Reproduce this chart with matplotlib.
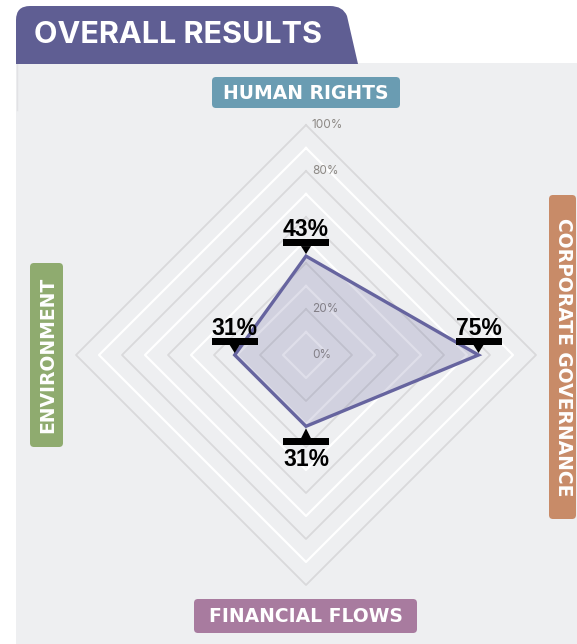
import matplotlib
matplotlib.use("Agg")
import matplotlib.pyplot as plt
from matplotlib.patches import FancyBboxPatch, Polygon, Rectangle, PathPatch
from matplotlib.path import Path

# ---------------- data ----------------
title = "OVERALL RESULTS"
categories = ["HUMAN RIGHTS", "CORPORATE GOVERNANCE", "FINANCIAL FLOWS", "ENVIRONMENT"]
values = [43, 75, 31, 31]          # top, right, bottom, left
value_labels = ["43%", "75%", "31%", "31%"]
tick_values = [0, 20, 80, 100]
tick_labels = ["0%", "20%", "80%", "100%"]
ring_values = [10, 20, 30, 40, 50, 60, 70, 80, 90, 100]
cat_colors = ["#6a9cb2", "#c88b68", "#a87b9f", "#8fab6f"]

W, H = 577, 644
fig = plt.figure(figsize=(W / 100, H / 100), dpi=100)
fig.patch.set_facecolor("white")

# decoration axes in pixel coordinates
deco = fig.add_axes([0, 0, 1, 1])
deco.set_xlim(0, W)
deco.set_ylim(H, 0)
deco.axis("off")

PANEL = "#eeeff1"
deco.add_patch(Rectangle((16, 63), W - 16, H - 63, facecolor=PANEL, edgecolor="none", zorder=0))
deco.plot([16.5, 16.5], [63, 110], color="#e2e2e5", lw=1.0, zorder=1)

# title tab
verts = [(16, 64), (16, 20), (16, 6), (30, 6), (330, 6), (343, 6), (347, 16), (358, 64), (16, 64)]
codes = [Path.MOVETO, Path.LINETO, Path.CURVE3, Path.CURVE3, Path.LINETO, Path.CURVE3, Path.CURVE3,
         Path.LINETO, Path.CLOSEPOLY]
deco.add_patch(PathPatch(Path(verts, codes), facecolor="#5f5e93", edgecolor="none", zorder=2))
deco.text(34, 35, title, color="white", fontsize=22, fontweight="bold", family="Inter",
          ha="left", va="center", zorder=3)

# category label boxes (pixel boxes: x0, y0, x1, y1)
boxes = [(212, 77, 400, 108), (549, 195, 576, 519), (194, 599, 417, 633), (30, 263, 63, 447)]
rots = [0, -90, 0, 90]
for (x0, y0, x1, y1), name, col, rot in zip(boxes, categories, cat_colors, rots):
    deco.add_patch(FancyBboxPatch((x0 + 4, y0 + 4), x1 - x0 - 8, y1 - y0 - 8,
                                  boxstyle="round,pad=4", facecolor=col, edgecolor="none", zorder=2))
    deco.text((x0 + x1) / 2 + (1 if rot != 0 else 0), (y0 + y1) / 2 + (1 if rot == 0 else 0), name,
              color="white", fontsize=13.5, fontweight="bold", family="DejaVu Sans", rotation=rot,
              ha="center", va="center", rotation_mode="anchor", zorder=3)

# ---------------- radar axes ----------------
CX, CY, S = 306, 355, 2.3   # centre pixel, pixels per percent
ax = fig.add_axes([0, 0, 1, 1])
ax.set_xlim(-CX / S, (W - CX) / S)
ax.set_ylim((CY - H) / S, CY / S)
ax.axis("off")
ax.patch.set_alpha(0)

for r in ring_values:
    even = (r // 10) % 2 == 0
    col = "#d9d9db" if even else "#ffffff"
    lw = 1.3 if even else 1.6
    ax.plot([0, r, 0, -r, 0], [r, 0, -r, 0, r], color=col, lw=lw, zorder=1)

for tv, tl in zip(tick_values, tick_labels):
    ax.text(6 / S, tv, tl, color="#8c8884", fontsize=8.5, family="Inter", ha="left", va="center", zorder=2)

top, right, bottom, left = values
px = [0, right, 0, -left]
py = [top, 0, -bottom, 0]
ax.add_patch(Polygon(list(zip(px, py)), closed=True, facecolor="#5f5d97", alpha=0.2,
                     edgecolor="none", zorder=3))
ax.add_patch(Polygon(list(zip(px, py)), closed=True, facecolor="none", edgecolor="#66649f",
                     lw=2.4, joinstyle="miter", zorder=4))

u = 1 / S  # one pixel in data units
for i, (x, y, lab) in enumerate(zip(px, py, value_labels)):
    if i == 2:
        tip = y - 2 * u
        ax.add_patch(Polygon([(x - 5 * u, tip - 10 * u), (x + 5 * u, tip - 10 * u), (x, tip)],
                             facecolor="black", edgecolor="none", zorder=5))
        ax.add_patch(Rectangle((x - 23 * u, tip - 17 * u), 46 * u, 7 * u, facecolor="black",
                               edgecolor="none", zorder=5))
        ax.text(x, tip - 20 * u, lab, fontsize=16.5, fontweight="bold", family="Liberation Sans",
                color="black", ha="center", va="top", zorder=6)
    else:
        tip = y + 2 * u
        ax.add_patch(Polygon([(x - 5 * u, tip + 8 * u), (x + 5 * u, tip + 8 * u), (x, tip)],
                             facecolor="black", edgecolor="none", zorder=5))
        ax.add_patch(Rectangle((x - 23 * u, tip + 8 * u), 46 * u, 7 * u, facecolor="black",
                               edgecolor="none", zorder=5))
        ax.text(x, tip + 18 * u, lab, fontsize=16.5, fontweight="bold", family="Liberation Sans",
                color="black", ha="center", va="baseline", zorder=6)

fig.savefig("out.png", dpi=100)
